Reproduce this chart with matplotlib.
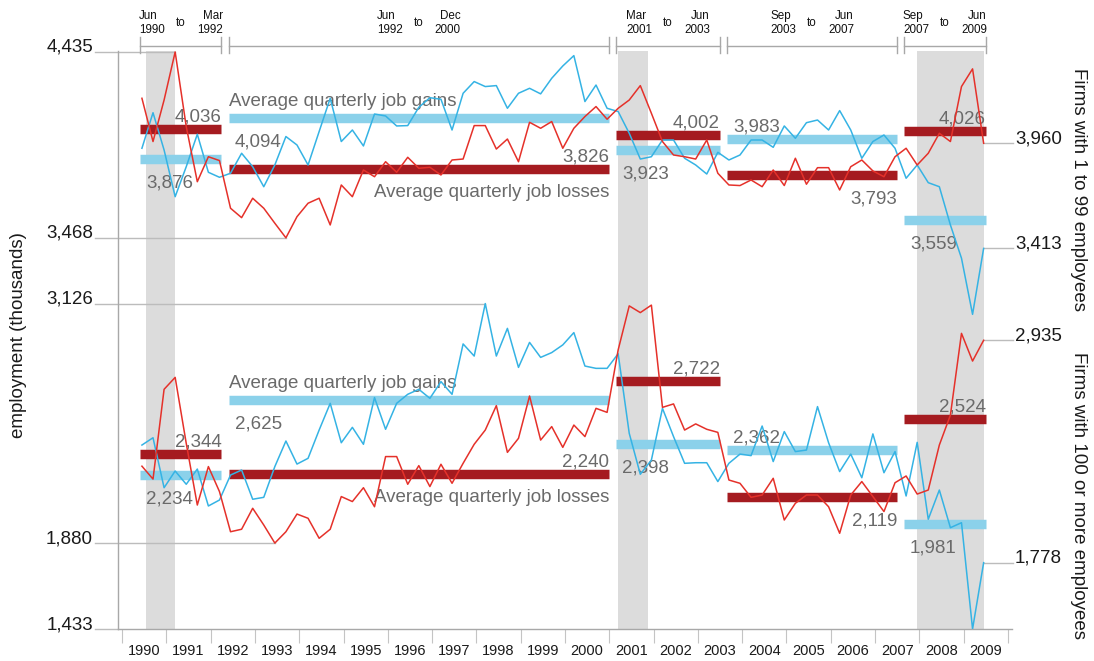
import numpy as np
import matplotlib
matplotlib.use("Agg")
import matplotlib.pyplot as plt
import matplotlib.transforms as mtransforms

plt.rcParams['font.family'] = ['Liberation Sans', 'DejaVu Sans']

# ---------------- data (thousands) ----------------
# quarterly, Jun 1990 .. Jun 2009 (77 quarters)
small_gains = [3934, 4119, 3925, 3682, 3838, 4007, 3809, 3783,
               3804, 3908, 3838, 3734, 3847, 3995, 3951, 3847, 4021, 4194,
               3969, 4029, 3946, 4112, 4102, 4050, 4052, 4147, 4197, 4189,
               4029, 4220, 4281, 4255, 4260, 4142, 4220, 4246, 4217, 4298,
               4362, 4416, 4177, 4263, 4142,
               4125, 4012, 3878, 3890, 3977, 3977, 3882, 3847, 3800, 3913,
               3873, 3899, 3977, 3977, 3939, 4050, 3986, 4067, 4081, 4029, 4130, 4029,
               3882, 3969, 4003, 3934,
               3778, 3847, 3755, 3734, 3535, 3362, 3070, 3413]
small_losses = [4194, 3969, 4185, 4435, 4047, 3760, 3890, 3870,
                3622, 3573, 3674, 3622, 3544, 3468, 3578, 3648, 3674, 3535,
                3743, 3682, 3821, 3786, 3864, 3809, 3887, 3830, 3835, 3795,
                3873, 3878, 4052, 4052, 3930, 3982, 3864, 4069, 4038, 4073,
                3934, 4038, 4099, 4151, 4085,
                4142, 4185, 4260, 4116, 3969, 3899, 3890, 3878, 3977, 3804,
                3743, 3740, 3769, 3734, 3821, 3740, 3882, 3747, 3833, 3833, 3717, 3838,
                3873, 3816, 3786, 3890,
                3934, 3847, 3908, 4012, 3969, 4255, 4347, 3960]
large_gains = [2390, 2428, 2168, 2255, 2186, 2265, 2073, 2104,
               2234, 2260, 2108, 2118, 2278, 2411, 2291, 2321, 2468, 2607,
               2402, 2482, 2394, 2637, 2472, 2607, 2654, 2680, 2633, 2720,
               2654, 2916, 2853, 3126, 2853, 2997, 2794, 2924, 2846, 2871,
               2911, 2975, 2801, 2789, 2789,
               2865, 2451, 2238, 2312, 2581, 2434, 2295, 2298, 2298, 2200,
               2295, 2343, 2335, 2489, 2304, 2460, 2356, 2364, 2590, 2402, 2252, 2343,
               2220, 2448, 2246, 2356,
               2125, 2404, 2004, 2156, 1960, 1986, 1433, 1778]
large_losses = [2280, 2213, 2680, 2742, 2399, 2078, 2278, 2148,
                1939, 1952, 2061, 1974, 1880, 1939, 2031, 2009, 1905, 1952,
                2122, 2096, 2168, 2069, 2330, 2330, 2186, 2283, 2174, 2290,
                2191, 2295, 2394, 2468, 2595, 2352, 2425, 2645, 2416, 2486,
                2378, 2494, 2434, 2581, 2560,
                2885, 3114, 3079, 3118, 2586, 2604, 2468, 2500, 2472, 2456,
                2208, 2191, 2118, 2130, 2217, 2000, 2087, 2130, 2130, 2069, 1931, 2130,
                2200, 2122, 2044, 2194,
                2229, 2135, 2156, 2390, 2546, 2971, 2827, 2935]

period_labels = [("Jun\n1990", "Mar\n1992"), ("Jun\n1992", "Dec\n2000"),
                 ("Mar\n2001", "Jun\n2003"), ("Sep\n2003", "Jun\n2007"),
                 ("Sep\n2007", "Jun\n2009")]
period_index = [(0, 7), (8, 42), (43, 52), (53, 68), (69, 76)]
small_gains_avg = [3876, 4094, 3923, 3983, 3559]
small_losses_avg = [4036, 3826, 4002, 3793, 4026]
large_gains_avg = [2234, 2625, 2398, 2362, 1981]
large_losses_avg = [2344, 2240, 2722, 2119, 2524]
gains_label_pos = ['below', 'below', 'below', 'above', 'below']
losses_label_pos = ['above', 'above', 'above', 'below', 'above']

recessions = [((1990, 7), (1991, 3)), ((2001, 3), (2001, 11)), ((2007, 12), (2009, 6))]
years = list(range(1990, 2010))
ref_values = [4435, 3468, 3126, 1880, 1433]

# ---------------- styles ----------------
BLUE = '#35b3e4'
RED = '#e5312a'
GAIN_BAR = '#8bd1ea'
LOSS_BAR = '#a51b20'
GRAYTXT = '#6a6a6a'
LEADER = '#bcbcbc'
SHADE = '#dcdcdc'
FS = 13.5


def tpos(year, month):
    return year + month / 12 - 0.05


months_total = [6 + 3 * k - 1 for k in range(len(small_gains))]
t = np.array([tpos(1990 + m // 12, m % 12 + 1) for m in months_total])

fig = plt.figure(figsize=(10.94, 6.61), dpi=100)
W, H = 1094, 661
ax = fig.add_axes([118 / W, 32 / H, 894 / W, 578 / H])
ax.set_xlim(1989.9097, 2010.0903)
ax.set_ylim(1433, 4440)

for sp in ['top', 'right']:
    ax.spines[sp].set_visible(False)
for sp in ['left', 'bottom']:
    ax.spines[sp].set_color('#a8a8a8')
    ax.spines[sp].set_linewidth(1.0)

ax.set_yticks([])
ax.set_xticks(list(range(1990, 2011)))
ax.set_xticklabels([])
ax.tick_params(axis='x', which='major', length=10, color='#c4c4c4', width=0.8)
ax.set_xticks([y + 0.5 for y in years], minor=True)
ax.set_xticklabels([str(y) for y in years], minor=True, fontsize=10.5, color='#1a1a1a')
ax.tick_params(axis='x', which='minor', length=0, pad=10.5)

# recession shading
for (y0, m0), (y1, m1) in recessions:
    ax.axvspan(tpos(y0, m0), tpos(y1, m1), color=SHADE, zorder=0, lw=0)

# series lines
for s, c in [(small_gains, BLUE), (small_losses, RED), (large_gains, BLUE), (large_losses, RED)]:
    ax.plot(t, s, color=c, lw=1.1, zorder=5)


def put_label(x0, x1, y, txt, where, side):
    if where == 'above':
        dy, va = 5.4, 'baseline'
    else:
        dy, va = -11.2, 'top'
    if side == 'left':
        x, dx, ha = x0, 4.3, 'left'
    else:
        x, dx, ha = x1, 0, 'right'
    ax.annotate(txt, xy=(x, y), xytext=(dx, dy), textcoords='offset points',
                ha=ha, va=va, fontsize=FS, color=GRAYTXT, zorder=3)


for i, (a, b) in enumerate(period_index):
    x0 = t[a] - 0.045
    x1 = t[b] + 0.045
    for gavg, lavg in [(small_gains_avg[i], small_losses_avg[i]),
                       (large_gains_avg[i], large_losses_avg[i])]:
        ax.plot([x0, x1], [gavg, gavg], color=GAIN_BAR, lw=6.8,
                solid_capstyle='butt', zorder=2)
        ax.plot([x0, x1], [lavg, lavg], color=LOSS_BAR, lw=6.8,
                solid_capstyle='butt', zorder=2)
        put_label(x0, x1, gavg, f"{gavg:,}", gains_label_pos[i], 'left')
        put_label(x0, x1, lavg, f"{lavg:,}", losses_label_pos[i], 'right')
        if i == 1:
            ax.annotate("Average quarterly job gains", xy=(x0, gavg), xytext=(0, 8.6),
                        textcoords='offset points', ha='left', va='baseline',
                        fontsize=FS, color=GRAYTXT, zorder=3)
            ax.annotate("Average quarterly job losses", xy=(x1, lavg), xytext=(0, -10.6),
                        textcoords='offset points', ha='right', va='top',
                        fontsize=FS, color=GRAYTXT, zorder=3)

# left reference labels with leader lines
ref_series = [small_losses, small_losses, large_gains, large_losses, large_gains]
for val, ser in zip(ref_values, ref_series):
    k = int(np.argmin(np.abs(np.array(ser) - val)))
    xend = t[k] if val != 1433 else 1989.9097
    ax.plot([1989.39, xend], [val, val], color=LEADER, lw=1, zorder=1, clip_on=False)
    ax.text(1989.345, val, f"{val:,}", ha='right', va='baseline', fontsize=FS,
            color='#1a1a1a', clip_on=False)

# right end labels
for ser in [small_gains, small_losses, large_gains, large_losses]:
    v = ser[-1]
    ax.plot([t[-1], 2010.113], [v, v], color=LEADER, lw=1, zorder=1, clip_on=False)
    ax.text(2010.158, v, f"{v:,}", ha='left', va='baseline', fontsize=FS,
            color='#1a1a1a', clip_on=False)

# header brackets
trans = mtransforms.blended_transform_factory(ax.transData, ax.transAxes)
y_line = 1 + 5.5 / 578
y_top = 1 + 14 / 578
y_bot = 1 - 2 / 578
y_txt = 1 + 28 / 578
for (a, b), (lab0, lab1) in zip(period_index, period_labels):
    x0 = t[a] - 0.045
    x1 = t[b] + 0.045
    ax.plot([x0, x1], [y_line, y_line], color='#a8a8a8', lw=1, transform=trans, clip_on=False)
    for xx in (x0, x1):
        ax.plot([xx, xx], [y_bot, y_top], color='#a8a8a8', lw=1, transform=trans, clip_on=False)
    c = (x0 + x1) / 2
    ax.annotate("to", xy=(c, y_txt), xycoords=trans, ha='center', va='center',
                fontsize=8.4, color='#111111')
    ax.annotate(lab0, xy=(c, y_txt), xycoords=trans, xytext=(-30.2, 0),
                textcoords='offset points', ha='left', va='center',
                multialignment='left', linespacing=1.15, fontsize=8.4, color='#111111')
    ax.annotate(lab1, xy=(c, y_txt), xycoords=trans, xytext=(30.2, 0),
                textcoords='offset points', ha='right', va='center',
                multialignment='right', linespacing=1.15, fontsize=8.4, color='#111111')

# side titles
fig.text(1079 / W, 1 - 190 / H, "Firms with 1 to 99 employees", rotation=270,
         ha='center', va='center', fontsize=FS, color='#1a1a1a')
fig.text(1079 / W, 1 - 495 / H, "Firms with 100 or more employees", rotation=270,
         ha='center', va='center', fontsize=FS, color='#1a1a1a')
fig.text(19 / W, 1 - 335 / H, "employment (thousands)", rotation=90,
         ha='center', va='center', fontsize=FS, color='#1a1a1a')

fig.savefig("out.png", dpi=100)
